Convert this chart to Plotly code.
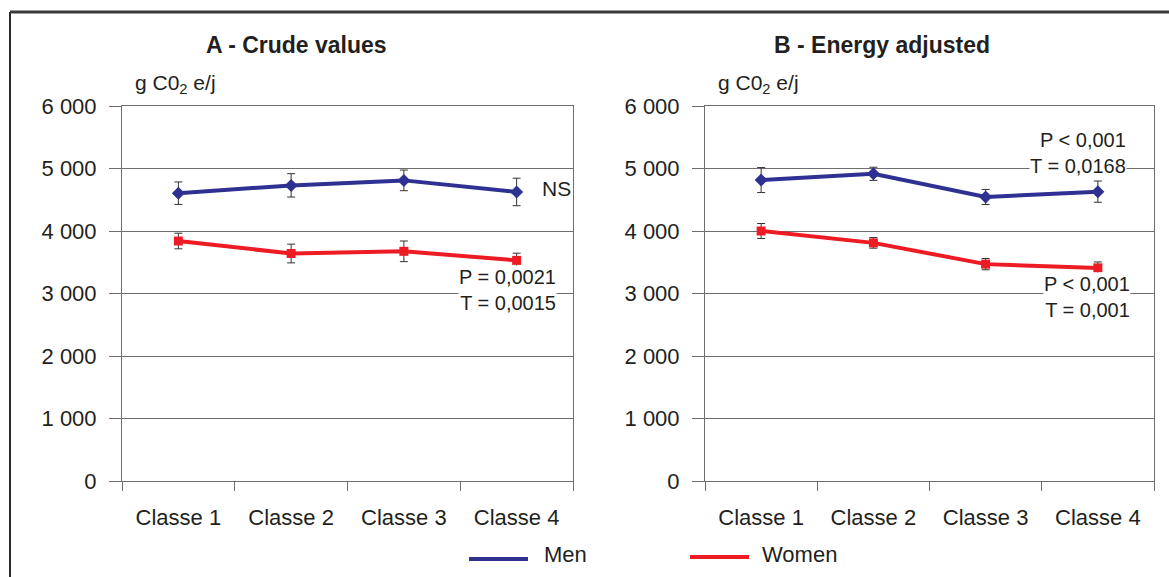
import plotly.graph_objects as go

categories = ["Classe 1", "Classe 2", "Classe 3", "Classe 4"]

# Panel A - crude values
men_a = [4605, 4730, 4810, 4625]
men_a_err = [180, 187, 165, 220]
women_a = [3840, 3640, 3675, 3530]
women_a_err = [125, 150, 165, 115]

# Panel B - energy adjusted
men_b = [4815, 4915, 4545, 4630]
men_b_err = [200, 105, 120, 170]
women_b = [4000, 3810, 3470, 3410]
women_b_err = [120, 85, 90, 95]

yticks = [0, 1000, 2000, 3000, 4000, 5000, 6000]

MEN_C = "#2e3192"
WOMEN_C = "#ed1c24"
FONT = "Liberation Sans, Arial, sans-serif"
TXT = "#231f20"
W, H = 1169, 577

fig = go.Figure()

def add_series(xa, ya, y, err, color, symbol, name, msize):
    fig.add_trace(go.Scatter(
        x=categories, y=y, xaxis=xa, yaxis=ya, name=name, mode="lines+markers",
        line=dict(color=color, width=4),
        marker=dict(color=color, symbol=symbol, size=msize),
        error_y=dict(type="data", array=err, visible=True, color="#333333",
                     thickness=1, width=4),
        showlegend=False))

add_series("x", "y", men_a, men_a_err, MEN_C, "diamond", "Men", 10)
add_series("x", "y", women_a, women_a_err, WOMEN_C, "square", "Women", 9)
add_series("x2", "y2", men_b, men_b_err, MEN_C, "diamond", "Men", 10)
add_series("x2", "y2", women_b, women_b_err, WOMEN_C, "square", "Women", 9)

def px_x(px):
    return px / W

def px_y(py):
    return 1 - py / H

ydom = [px_y(481), px_y(106)]

xaxis_common = dict(
    type="category", range=[-0.5, 3.5], showline=True, linecolor="#6e6e6e",
    linewidth=1, mirror=True, ticks="outside", tickson="boundaries", ticklen=9,
    tickcolor="#6e6e6e", showgrid=False, zeroline=False, automargin=False,
    tickfont=dict(family=FONT, size=22, color=TXT), ticklabelstandoff=17,
)
yaxis_common = dict(
    range=[0, 6000], tickvals=yticks, tickformat=",d", showline=True,
    linecolor="#6e6e6e", linewidth=1, mirror=True, ticks="outside", ticklen=12,
    tickcolor="#6e6e6e", showgrid=True, gridcolor="#6e6e6e", gridwidth=1,
    zeroline=False, automargin=False, tickfont=dict(family=FONT, size=22, color=TXT),
    ticklabelstandoff=8,
)

fig.update_layout(
    width=W, height=H, margin=dict(l=0, r=0, t=0, b=0, pad=0, autoexpand=False),
    paper_bgcolor="white", plot_bgcolor="white",
    separators=", ",
    xaxis=dict(domain=[px_x(122), px_x(573)], anchor="y", **xaxis_common),
    yaxis=dict(domain=ydom, anchor="x", **yaxis_common),
    xaxis2=dict(domain=[px_x(705), px_x(1154)], anchor="y2", **xaxis_common),
    yaxis2=dict(domain=ydom, anchor="x2", **yaxis_common),
    showlegend=False,
)

ann = []
def text(x, y, t, size=22, bold=False, xanchor="center", bg=None, align="left"):
    d = dict(x=x, y=y, xref="paper", yref="paper", text=("<b>%s</b>" % t if bold else t),
             showarrow=False, xanchor=xanchor, yanchor="middle", align=align,
             font=dict(family=FONT, size=size, color=TXT))
    if bg:
        d.update(bgcolor=bg, borderpad=0)
    ann.append(d)

# titles
text(px_x(296), px_y(45), "A - Crude values", size=23, bold=True)
text(px_x(882), px_y(45), "B - Energy adjusted", size=23, bold=True)
# y units
text(px_x(133), px_y(84), "g C0<sub>2</sub> e/j", size=21, xanchor="left")
text(px_x(716), px_y(84), "g C0<sub>2</sub> e/j", size=21, xanchor="left")

# Panel A stats
text(px_x(540), px_y(188), "NS", size=21, xanchor="left")
text(px_x(557), px_y(290), "P = 0,0021<br>T = 0,0015", size=20, xanchor="right",
     bg="white", align="right")
# Panel B stats
text(px_x(1127), px_y(153), "P < 0,001<br>T = 0,0168", size=20, xanchor="right",
     bg="white", align="right")
text(px_x(1131), px_y(297), "P < 0,001<br>T = 0,001", size=20, xanchor="right",
     bg="white", align="right")

# legend text
text(px_x(542), px_y(554), "Men", size=22, xanchor="left")
text(px_x(760), px_y(554), "Women", size=22, xanchor="left")

fig.update_layout(annotations=ann)

shapes = [
    # legend lines
    dict(type="line", xref="paper", yref="paper", x0=px_x(469), x1=px_x(528),
         y0=px_y(559), y1=px_y(559), line=dict(color=MEN_C, width=4)),
    dict(type="line", xref="paper", yref="paper", x0=px_x(690), x1=px_x(749),
         y0=px_y(557), y1=px_y(557), line=dict(color=WOMEN_C, width=4)),
    # outer frame
    dict(type="line", xref="paper", yref="paper", x0=px_x(10), x1=1.01,
         y0=px_y(12), y1=px_y(12), line=dict(color="#3a3a3a", width=3)),
    dict(type="line", xref="paper", yref="paper", x0=px_x(10), x1=px_x(10),
         y0=px_y(12), y1=-0.01, line=dict(color="#2a2a2a", width=2)),
]
fig.update_layout(shapes=shapes)

fig.write_html(
    "out.html",
    config={"displayModeBar": False},
    post_script="document.body.style.margin='0';document.body.style.overflow='hidden';",
)
